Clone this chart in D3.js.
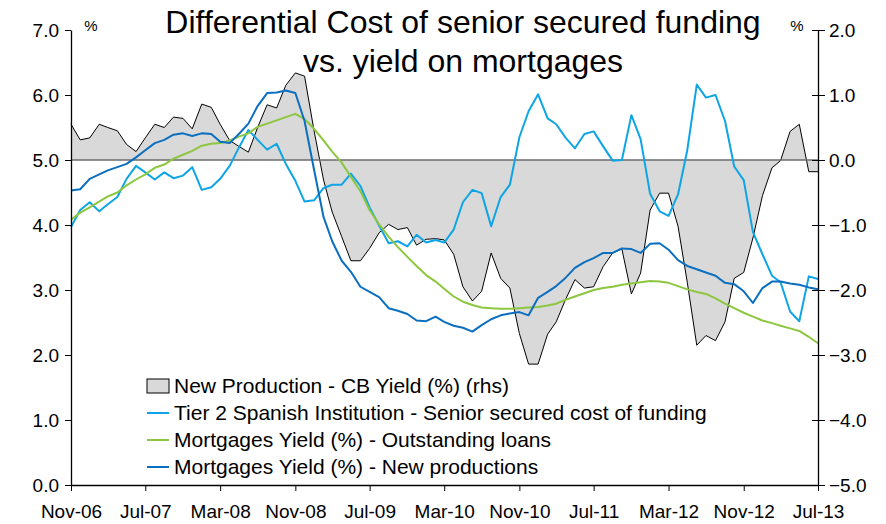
<!DOCTYPE html>
<html>
<head>
<meta charset="utf-8">
<script src="https://cdn.jsdelivr.net/npm/d3@7"></script>
<style>
  body { margin: 0; background: #fff; }
  #chart-container { width: 886px; height: 524px; }
  text { font-family: "Liberation Sans", Arial, sans-serif; fill: #000; }
</style>
</head>
<body>
<div id="chart-container"></div>
<script>
// --- Data (monthly, Nov-06 .. Jul-13) ---
const startMonth = new Date(2006, 10, 1);
const endMonth = new Date(2013, 7, 1);

const tickLabels = ["Nov-06", "Jul-07", "Mar-08", "Nov-08", "Jul-09", "Mar-10",
                    "Nov-10", "Jul-11", "Mar-12", "Nov-12", "Jul-13"];

// New Production - CB Yield (%) (rhs)
const cbYield = [
  0.55, 0.31, 0.34, 0.55, 0.50, 0.45, 0.24, 0.13, 0.34, 0.55,
  0.50, 0.66, 0.64, 0.48, 0.86, 0.81, 0.55, 0.30, 0.21, 0.12,
  0.50, 0.85, 0.80, 1.15, 1.34, 1.29, 0.45, -0.31, -0.80, -1.18,
  -1.55, -1.55, -1.36, -1.12, -0.99, -1.07, -1.04, -1.31, -1.22, -1.21,
  -1.23, -1.45, -1.95, -2.17, -2.02, -1.43, -1.82, -1.97, -2.67, -3.14,
  -3.14, -2.68, -2.49, -2.14, -1.84, -1.97, -1.95, -1.64, -1.43, -1.37,
  -2.06, -1.74, -0.77, -0.51, -0.51, -1.02, -1.88, -2.85, -2.70, -2.78,
  -2.49, -1.82, -1.73, -1.20, -0.55, -0.12, -0.01, 0.44, 0.55, -0.18,
  -0.18
];

// Tier 2 Spanish Institution - Senior secured cost of funding
const tier2Funding = [
  3.97, 4.23, 4.35, 4.21, 4.32, 4.43, 4.71, 4.91, 4.81, 4.70,
  4.81, 4.72, 4.76, 4.89, 4.54, 4.58, 4.71, 4.91, 5.19, 5.46,
  5.31, 5.16, 5.25, 4.94, 4.68, 4.36, 4.38, 4.57, 4.62, 4.62,
  4.79, 4.60, 4.27, 3.99, 3.72, 3.75, 3.67, 3.85, 3.73, 3.77,
  3.73, 3.93, 4.35, 4.54, 4.49, 3.98, 4.43, 4.62, 5.35, 5.75,
  6.01, 5.64, 5.55, 5.34, 5.18, 5.40, 5.44, 5.21, 4.99, 5.00,
  5.69, 5.32, 4.48, 4.21, 4.14, 4.47, 5.15, 6.16, 5.96, 6.00,
  5.60, 4.90, 4.69, 3.89, 3.55, 3.22, 3.12, 2.67, 2.52, 3.21,
  3.17
];

// Mortgages Yield (%) - Outstanding loans
const yieldOutstanding = [
  4.08, 4.19, 4.27, 4.36, 4.44, 4.50, 4.61, 4.70, 4.78, 4.88,
  4.93, 5.02, 5.08, 5.14, 5.22, 5.25, 5.26, 5.30, 5.36, 5.41,
  5.51, 5.56, 5.61, 5.66, 5.71, 5.63, 5.48, 5.30, 5.13, 4.96,
  4.74, 4.52, 4.23, 4.01, 3.82, 3.66, 3.51, 3.37, 3.23, 3.13,
  3.02, 2.90, 2.82, 2.77, 2.73, 2.72, 2.71, 2.71, 2.72, 2.73,
  2.74, 2.76, 2.79, 2.85, 2.90, 2.95, 3.00, 3.03, 3.05, 3.08,
  3.10, 3.12, 3.14, 3.13, 3.11, 3.06, 3.01, 2.97, 2.94, 2.87,
  2.79, 2.72, 2.65, 2.59, 2.53, 2.49, 2.45, 2.41, 2.37, 2.28,
  2.18
];

// Mortgages Yield (%) - New productions
const yieldNewProd = [
  4.53, 4.55, 4.71, 4.78, 4.84, 4.89, 4.94, 5.04, 5.15, 5.26,
  5.31, 5.39, 5.41, 5.37, 5.41, 5.40, 5.28, 5.26, 5.40, 5.56,
  5.83, 6.03, 6.04, 6.07, 6.03, 5.60, 4.85, 4.12, 3.75, 3.45,
  3.28, 3.05, 2.97, 2.89, 2.72, 2.68, 2.63, 2.53, 2.52, 2.59,
  2.51, 2.45, 2.42, 2.36, 2.46, 2.55, 2.61, 2.64, 2.66, 2.61,
  2.88, 2.97, 3.06, 3.19, 3.34, 3.43, 3.49, 3.57, 3.57, 3.64,
  3.63, 3.57, 3.71, 3.72, 3.62, 3.46, 3.37, 3.32, 3.27, 3.22,
  3.11, 3.09, 2.98, 2.80, 3.03, 3.13, 3.13, 3.10, 3.08, 3.04,
  3.01
];

const leftTicks = [0, 1, 2, 3, 4, 5, 6, 7];
const rightTicks = [-5, -4, -3, -2, -1, 0, 1, 2];

const legendLabels = [
  "New Production - CB Yield (%) (rhs)",
  "Tier 2 Spanish Institution - Senior secured cost of funding",
  "Mortgages Yield (%) - Outstanding loans",
  "Mortgages Yield (%) - New productions"
];

document.addEventListener('DOMContentLoaded', () => {
    const container = document.getElementById('chart-container');
    const width = 886;
    const height = 524;

    const colors = {
        area: "#d9d9d9",
        tier2: "#0ea5e6",
        outstanding: "#8dc63f",
        newProd: "#0b6fc0"
    };

    // --- Scales ---
    const months = d3.timeMonth.range(startMonth, endMonth);
    const x = d3.scaleTime()
        .domain([months[0], months[months.length - 1]])
        .range([71, 818]);
    const yLeft = d3.scaleLinear().domain([0, 7]).range([485, 30]);
    const yRight = d3.scaleLinear().domain([-5, 2]).range([485, 30]);

    const svg = d3.select(container).append("svg")
        .attr("width", width)
        .attr("height", height);

    svg.append("rect").attr("width", width).attr("height", height).attr("fill", "#fff");

    // --- Title ---
    const title = svg.append("text")
        .attr("text-anchor", "middle")
        .style("font-size", "32px");
    title.append("tspan").attr("x", 463).attr("y", 33).text("Differential Cost of senior secured funding");
    title.append("tspan").attr("x", 463).attr("y", 72).text("vs. yield on mortgages");

    // --- Area (rhs) ---
    const area = d3.area()
        .x((d, i) => x(months[i]))
        .y0(yRight(0))
        .y1(d => yRight(d));
    const areaLine = d3.line()
        .x((d, i) => x(months[i]))
        .y(d => yRight(d));

    svg.append("path")
        .datum(cbYield)
        .attr("fill", colors.area)
        .attr("d", area);
    svg.append("path")
        .datum(cbYield)
        .attr("fill", "none")
        .attr("stroke", "#000")
        .attr("stroke-width", 1)
        .attr("d", areaLine);

    // zero line of the right axis
    svg.append("line")
        .attr("x1", x.range()[0]).attr("x2", x.range()[1])
        .attr("y1", yRight(0)).attr("y2", yRight(0))
        .attr("stroke", "#6b6b6b")
        .attr("stroke-width", 1.5);

    // --- Lines (lhs) ---
    const line = d3.line()
        .x((d, i) => x(months[i]))
        .y(d => yLeft(d));

    [[tier2Funding, colors.tier2], [yieldOutstanding, colors.outstanding], [yieldNewProd, colors.newProd]]
        .forEach(([values, color]) => {
            svg.append("path")
                .datum(values)
                .attr("fill", "none")
                .attr("stroke", color)
                .attr("stroke-width", 2)
                .attr("stroke-linejoin", "round")
                .attr("d", line);
        });

    // --- Axes ---
    const tickDates = tickLabels.map((d, i) => months[i * 8]);

    const xAxis = svg.append("g")
        .attr("transform", `translate(0,${yLeft(0)})`)
        .call(d3.axisBottom(x)
            .tickValues(tickDates)
            .tickFormat((d, i) => tickLabels[i])
            .tickSize(6)
            .tickSizeOuter(0));
    xAxis.selectAll("text").attr("y", 20).style("font-size", "19px");

    const leftAxis = svg.append("g")
        .attr("transform", `translate(${x.range()[0]},0)`)
        .call(d3.axisLeft(yLeft)
            .tickValues(leftTicks)
            .tickFormat(d3.format(".1f"))
            .tickSize(6)
            .tickSizeOuter(0));
    leftAxis.selectAll("text").attr("x", -12).style("font-size", "19px");

    const rightAxis = svg.append("g")
        .attr("transform", `translate(${x.range()[1]},0)`)
        .call(d3.axisRight(yRight)
            .tickValues(rightTicks)
            .tickFormat(d3.format(".1f"))
            .tickSize(7)
            .tickSizeOuter(0));
    rightAxis.selectAll(".tick line").attr("x1", -6);
    rightAxis.selectAll("text").attr("x", 11).style("font-size", "19px");

    svg.selectAll(".domain").attr("stroke", "#000").attr("stroke-width", 1.3);
    svg.selectAll(".tick line").attr("stroke", "#000");
    svg.selectAll(".tick text").attr("font-family", null).style("fill", "#000");

    // unit labels
    svg.append("text").attr("x", 91).attr("y", 31).attr("text-anchor", "middle")
        .style("font-size", "15px").text("%");
    svg.append("text").attr("x", 797).attr("y", 31).attr("text-anchor", "middle")
        .style("font-size", "15px").text("%");

    // --- Legend ---
    const legend = svg.append("g").attr("transform", "translate(147,386)");
    const legendColors = [null, colors.tier2, colors.outstanding, colors.newProd];

    legendLabels.forEach((label, i) => {
        const row = legend.append("g").attr("transform", `translate(0,${i * 27})`);
        if (i === 0) {
            row.append("rect")
                .attr("x", 0).attr("y", -7)
                .attr("width", 22).attr("height", 14)
                .attr("fill", colors.area)
                .attr("stroke", "#000")
                .attr("stroke-width", 1);
        } else {
            row.append("line")
                .attr("x1", 0).attr("x2", 22)
                .attr("stroke", legendColors[i])
                .attr("stroke-width", 2);
        }
        row.append("text")
            .attr("x", 27)
            .attr("dy", "0.35em")
            .style("font-size", "21px")
            .text(label);
    });
});
</script>
</body>
</html>
